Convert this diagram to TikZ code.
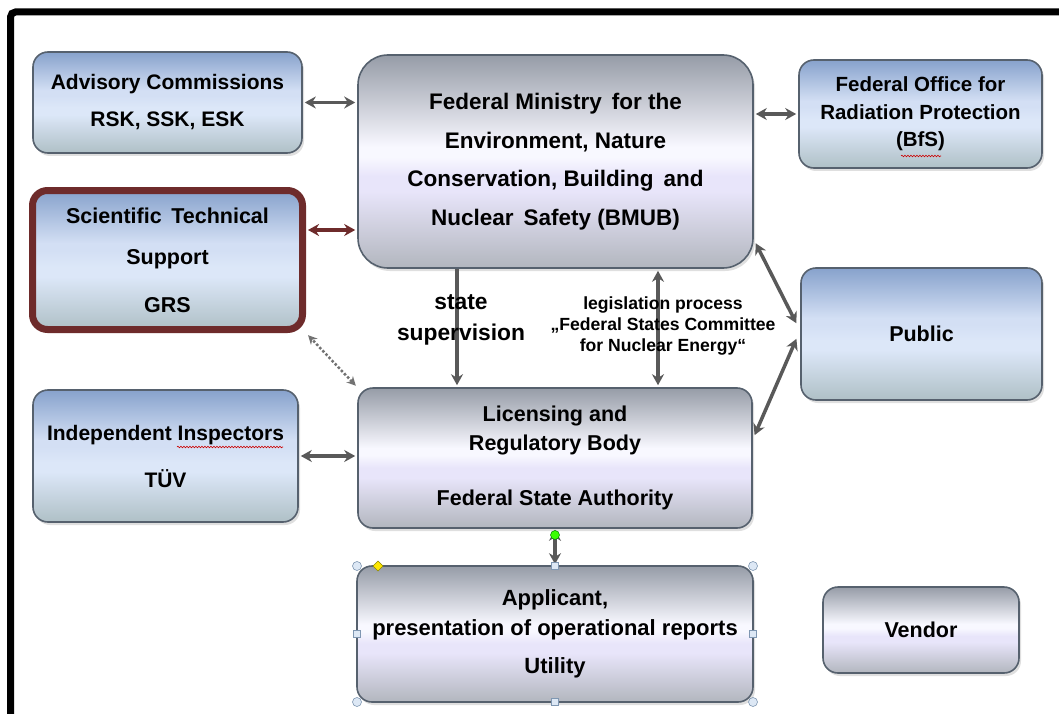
\documentclass[tikz,border=0pt]{standalone}
\usepackage{fontspec}
\setmainfont{Liberation Sans}
\usetikzlibrary{arrows.meta,calc,shadows,decorations.pathmorphing}
\definecolor{arrgray}{HTML}{595959}
\definecolor{boxedge}{HTML}{56616E}
\definecolor{bluetop}{HTML}{87A2CC}
\definecolor{bluemid}{HTML}{DCE7F8}
\definecolor{bluemidb}{HTML}{D3DFF4}
\definecolor{bluebot}{HTML}{AFC0C6}
\definecolor{greytop}{HTML}{969CA7}
\definecolor{greymid}{HTML}{F8F8FF}
\definecolor{greylav}{HTML}{E8E5FA}
\definecolor{greybot}{HTML}{B2B6BE}
\definecolor{darkred}{HTML}{6E2B2B}
\definecolor{handlefill}{HTML}{DDE8F5}
\definecolor{handleedge}{HTML}{7F97B2}
\pgfdeclareverticalshading{bluesh}{100bp}{color(0bp)=(bluebot); color(25bp)=(bluebot);
  color(44bp)=(bluemid); color(47.5bp)=(bluemid); color(53.5bp)=(bluemidb); color(56bp)=(bluemidb);
  color(75bp)=(bluetop); color(100bp)=(bluetop)}
\pgfdeclareverticalshading{greysh}{100bp}{color(0bp)=(greybot); color(25bp)=(greybot);
  color(43bp)=(greylav); color(46.5bp)=(greylav); color(51bp)=(greymid); color(53.5bp)=(greymid);
  color(75bp)=(greytop); color(100bp)=(greytop)}
\begin{document}
\begin{tikzpicture}[x=1pt,y=-1pt,
  box/.style={rounded corners=15pt, draw=boxedge, line width=1.6pt, align=center,
    inner sep=0pt, text=black, font=\bfseries\fontsize{21.5}{37}\selectfont,
    drop shadow={shadow xshift=2pt, shadow yshift=-3pt, opacity=0.25}},
  bluebox/.style={box, shading=bluesh},
  greybox/.style={box, shading=greysh},
  conn/.style={draw=arrgray, line width=3.5pt, shorten <=2pt, shorten >=2pt,
    {Stealth[length=11pt,width=12pt]}-{Stealth[length=11pt,width=12pt]}},
  lbl/.style={align=center, inner sep=0pt, font=\bfseries},
  squiggle/.style={draw=red!80!black, line width=0.6pt, decorate,
    decoration={snake, amplitude=0.8pt, segment length=3pt}},
  handle/.style={draw=handleedge, fill=handlefill, line width=0.6pt}
]
\useasboundingbox (0,0) rectangle (1059,714);
\fill[white] (0,0) rectangle (1059,714);
% frame
\draw[line width=7pt, rounded corners=5pt] (10.5,714) -- (10.5,12) -- (1059,12);

% boxes
\node[bluebox, minimum width=269pt, minimum height=101pt,
  font=\bfseries\fontsize{21}{37}\selectfont] (adv) at (167.5,102.5)
  {Advisory Commissions\\RSK, SSK, ESK};
\node[greybox, rounded corners=30pt, minimum width=395pt, minimum height=213pt,
  font=\bfseries\fontsize{22.5}{38.5}\selectfont] (bmub) at (555.5,161.5)
  {Federal Ministry\, for the\\Environment, Nature\\Conservation, Building\, and\\Nuclear\, Safety (BMUB)};
\node[bluebox, minimum width=243pt, minimum height=108pt,
  font=\bfseries\fontsize{20.5}{27.5}\selectfont] (bfs) at (920.5,114)
  {Federal Office for\\Radiation Protection\\(BfS)};
\node[bluebox, draw=darkred, line width=7pt, minimum width=270pt, minimum height=139pt,
  font=\bfseries\fontsize{21.5}{41}\selectfont] (sts) at (167.5,260)
  {Scientific\, Technical\\Support\\[7pt]GRS};
\node[bluebox, minimum width=241pt, minimum height=132pt] (pub) at (921.5,334) {Public};
\node[bluebox, minimum width=265pt, minimum height=132pt,
  font=\bfseries\fontsize{21}{47}\selectfont] (ind) at (165.5,456)
  {Independent Inspectors\\TÜV};
\node[greybox, minimum width=394pt, minimum height=140pt,
  font=\bfseries\fontsize{21.5}{29}\selectfont] (lic) at (555,458)
  {Licensing and\\Regulatory Body\\[26pt]Federal State Authority};
\node[greybox, minimum width=396pt, minimum height=136pt,
  font=\bfseries\fontsize{22}{30}\selectfont] (app) at (555,634)
  {Applicant,\\presentation of operational reports\\[8pt]Utility};
\node[greybox, minimum width=196pt, minimum height=86pt] (ven) at (921,630) {Vendor};

% spell-check marks
\draw[squiggle] (901,156) -- (941,156);
\draw[squiggle] (177,447) -- (283,447);

% connectors
\draw[conn] (adv.east) -- (adv.east -| bmub.west);
\coordinate (stsA) at ($(sts.east)+(0,-30)$);
\draw[conn, draw=darkred] (stsA) -- (stsA -| bmub.west);
\draw[conn] (bfs.west) -- (bfs.west -| bmub.east);
\draw[conn] (ind.east) -- (ind.east -| lic.west);
\coordinate (ss) at ($(bmub.south)+(-98.5,0)$);
\draw[draw=arrgray, line width=3.5pt, shorten >=2pt, -{Stealth[length=11pt,width=12pt]}]
  (ss) -- (ss |- lic.north);
\coordinate (lp) at ($(bmub.south)+(102.5,0)$);
\draw[conn] (lp) -- (lp |- lic.north);
\coordinate (bmR) at ($(bmub.east)+(1,80)$);
\coordinate (pubA) at ($(pub.west)+(-3,-9)$);
\draw[conn] (bmR) -- (pubA);
\coordinate (licR) at ($(lic.east)+(1,-21)$);
\coordinate (pubB) at ($(pub.west)+(-3,3)$);
\draw[conn] (licR) -- (pubB);
\draw[draw=arrgray!85, line width=2.5pt, dotted, shorten <=2pt, shorten >=3pt,
  {Stealth[length=9pt,width=9pt]}-{Stealth[length=9pt,width=9pt]}]
  (lic.north west) -- (sts.south east);
\draw[conn, shorten <=1pt, shorten >=1pt] (lic.south) -- (app.north);

% labels
\node[lbl, font=\bfseries\fontsize{22.8}{31}\selectfont] (ssl) at (461,320) {state\\supervision};
\node[lbl, font=\bfseries\fontsize{17.6}{21}\selectfont] (lpl) at (663,326)
  {legislation process\\„Federal States Committee\\for Nuclear Energy“};

% selection handles
\foreach \p in {(357,566),(753,566),(357,702),(753,702)}
  \draw[handle] \p circle (4.5pt);
\foreach \p in {(555,566),(555,702),(357,634),(753,634)}
  \draw[handle] \p ++(-3.5,-3.5) rectangle ++(7,7);
\draw[draw=olive, fill=yellow!90!orange, line width=0.5pt]
  (378,561) -- (383,566) -- (378,571) -- (373,566) -- cycle;
\draw[draw=green!50!black, fill=green!70!lime, line width=0.5pt] (555,535) circle (4.5pt);
\end{tikzpicture}
\end{document}
